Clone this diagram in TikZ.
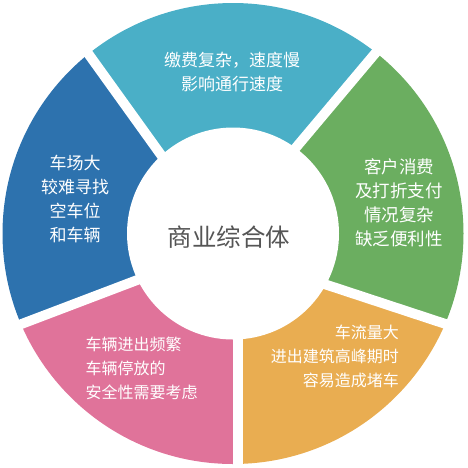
\documentclass[tikz,border=0pt]{standalone}
\usepackage{fontspec}
\setmainfont{Noto Sans CJK SC}
\usetikzlibrary{calc}
\definecolor{cteal}{RGB}{74,175,199}
\definecolor{cblue}{RGB}{45,114,174}
\definecolor{cgreen}{RGB}{107,174,96}
\definecolor{corange}{RGB}{233,173,81}
\definecolor{cpink}{RGB}{224,115,154}
\definecolor{ctext}{RGB}{85,85,85}
\begin{document}
\begin{tikzpicture}[x=1pt,y=-1pt,
  gapline/.style={white, line width=9.8pt},
  lbl/.style={text=white, inner sep=0pt, anchor=base},
  fbig/.style={font=\fontsize{17}{20}\selectfont},
  fgreen/.style={font=\fontsize{17.5}{20}\selectfont},
  fsmall/.style={font=\fontsize{16}{20}\selectfont},
  ctr/.style={text=ctext, inner sep=0pt, anchor=base, font=\fontsize{24.5}{28}\selectfont}]
\useasboundingbox (0,0) rectangle (468,467);
\coordinate (C) at (233,233.5);
% gap centre lines: inner point P, outer point Q (image coordinates)
\coordinate (P1) at (160.5,154.2); \coordinate (Q1) at (89.2,55);
\coordinate (P2) at (297,146.3);   \coordinate (Q2) at (375.5,53);
\coordinate (P3) at (327.2,285);   \coordinate (Q3) at (445,323.8);
\coordinate (P4) at (238,338);     \coordinate (Q4) at (238,464);
\coordinate (P5) at (137.2,280);   \coordinate (Q5) at (22,323.8);
\foreach \i in {1,...,5}{
  \coordinate (I\i) at ($(P\i)!-0.9!(Q\i)$);
  \coordinate (O\i) at ($(P\i)!1.6!(Q\i)$);
}
\begin{scope}
  \clip (C) circle[radius=230.5pt];
  \fill[cteal]   (I1) -- (O1) -- (O2) -- (I2) -- cycle;
  \fill[cgreen]  (I2) -- (O2) -- (O3) -- (I3) -- cycle;
  \fill[corange] (I3) -- (O3) -- (O4) -- (I4) -- cycle;
  \fill[cpink]   (I4) -- (O4) -- (O5) -- (I5) -- cycle;
  \fill[cblue]   (I5) -- (O5) -- (O1) -- (I1) -- cycle;
\end{scope}
\foreach \i in {1,...,5}{\draw[gapline] (I\i) -- (O\i);}
\fill[white] (C) circle[radius=106pt];
% centre
\node[ctr] (hub) at (229,246.5) {商业综合体};
% teal
\node[lbl,fbig] (ta) at (232,66.5) {缴费复杂，速度慢};
\node[lbl,fbig] (tb) at (232,90.5) {影响通行速度};
% blue
\node[lbl,fbig] (ba) at (75,169.5) {车场大};
\node[lbl,fbig] (bb) at (75,193.5) {较难寻找};
\node[lbl,fbig] (bc) at (75,217.5) {空车位};
\node[lbl,fbig] (bd) at (75,241.5) {和车辆};
% green
\node[lbl,fgreen] (ga) at (399,173) {客户消费};
\node[lbl,fgreen] (gb) at (399,197) {及打折支付};
\node[lbl,fgreen] (gc) at (399,221) {情况复杂};
\node[lbl,fgreen] (gd) at (399,245) {缺乏便利性};
% pink
\node[lbl,fsmall,anchor=base west] (pa) at (85.5,350.6) {车辆进出频繁};
\node[lbl,fsmall,anchor=base west] (pb) at (85.5,374.6) {车辆停放的};
\node[lbl,fsmall,anchor=base west] (pc) at (85.5,398.6) {安全性需要考虑};
% orange
\node[lbl,fsmall,anchor=base east] (oa) at (399,338.9) {车流量大};
\node[lbl,fsmall,anchor=base east] (ob) at (399,362.8) {进出建筑高峰期时};
\node[lbl,fsmall,anchor=base east] (oc) at (399,386.6) {容易造成堵车};
\end{tikzpicture}
\end{document}
